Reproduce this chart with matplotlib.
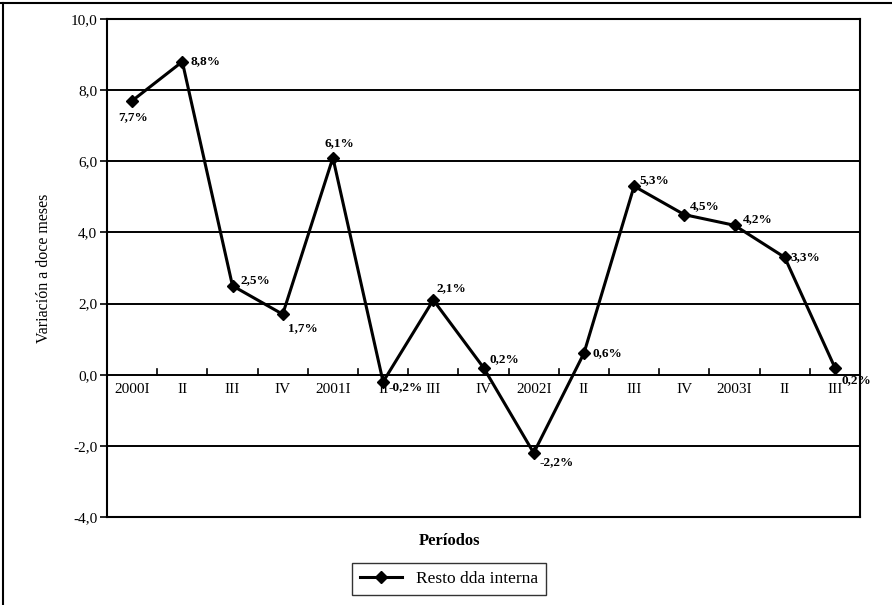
import numpy as np
import matplotlib
matplotlib.use("Agg")
from matplotlib import pyplot as plt
from matplotlib.lines import Line2D

plt.rcParams['font.family'] = ['Liberation Serif', 'DejaVu Serif']

# quarterly periods and 12-month variation
periods = ["2000I", "II", "III", "IV", "2001I", "II", "III", "IV",
           "2002I", "II", "III", "IV", "2003I", "II", "III"]
resto_dda = [7.7, 8.8, 2.5, 1.7, 6.1, -0.2, 2.1, 0.2,
             -2.2, 0.6, 5.3, 4.5, 4.2, 3.3, 0.2]
y_ticks = [-4, -2, 0, 2, 4, 6, 8, 10]

# offsets (points) for each value label
label_offsets = [(-10, -14), (6, -2), (6, 0), (4, -12), (-6, 6), (4, -6),
                 (2, 4), (4, 2), (4, -9), (6, -2), (4, 0), (4, 2),
                 (6, 0), (4, -2), (5, -11)]

fig = plt.figure(figsize=(8.92, 6.05), dpi=100)
ax = fig.add_axes([107 / 892, 1 - 517 / 605, 753 / 892, 498 / 605])

x = np.arange(len(periods))
ax.plot(x, resto_dda, color="black", lw=2.2, marker="D", markersize=6.5,
        zorder=5)

ax.set_xlim(-0.5, len(periods) - 0.5)
ax.set_ylim(-4, 10)
ax.set_yticks(y_ticks)
ax.set_yticklabels([f"{v:.1f}".replace(".", ",") for v in y_ticks],
                   fontsize=11)
ax.tick_params(axis="y", direction="out", length=5, width=1.2, pad=2)
ax.set_xticks([])
for v in y_ticks[1:-1]:
    ax.axhline(v, color="black", lw=1.4, zorder=1)
for s in ax.spines.values():
    s.set_linewidth(1.5)

# category axis crossing at zero
for b in np.arange(0.5, len(periods) - 1, 1.0):
    ax.plot([b, b], [0, 0.15], color="black", lw=1.2, zorder=2)
for xi, lab in zip(x, periods):
    ax.text(xi, -0.22, lab, ha="center", va="top", fontsize=11)

for xi, v, off in zip(x, resto_dda, label_offsets):
    ax.annotate(f"{v:.1f}%".replace(".", ","), (xi, v), xytext=off,
                textcoords="offset points", fontsize=9.5, fontweight="bold",
                ha="left", va="bottom" if off[1] >= 0 else "baseline",
                zorder=6)

ax.set_ylabel("Variación a doce meses", fontsize=11.5, labelpad=13)
fig.text(450 / 892, 1 - 541 / 605, "Períodos", ha="center", va="center",
         fontsize=12, fontweight="bold")

handle = Line2D([], [], color="black", lw=2.2, marker="D", markersize=6.5)
fig.legend([handle], ["Resto dda interna"], loc="center",
           bbox_to_anchor=(449 / 892, 1 - 579 / 605), frameon=True,
           fancybox=False, edgecolor="black", fontsize=12.5,
           handlelength=2.4, borderpad=0.45)

# outer frame (top and left edges)
fig.add_artist(Line2D([0, 1], [1 - 3 / 605, 1 - 3 / 605], color="black",
                      lw=1.5, transform=fig.transFigure))
fig.add_artist(Line2D([3 / 892, 3 / 892], [0, 1 - 3 / 605], color="black",
                      lw=1.5, transform=fig.transFigure))

fig.savefig("out.png", dpi=100)
